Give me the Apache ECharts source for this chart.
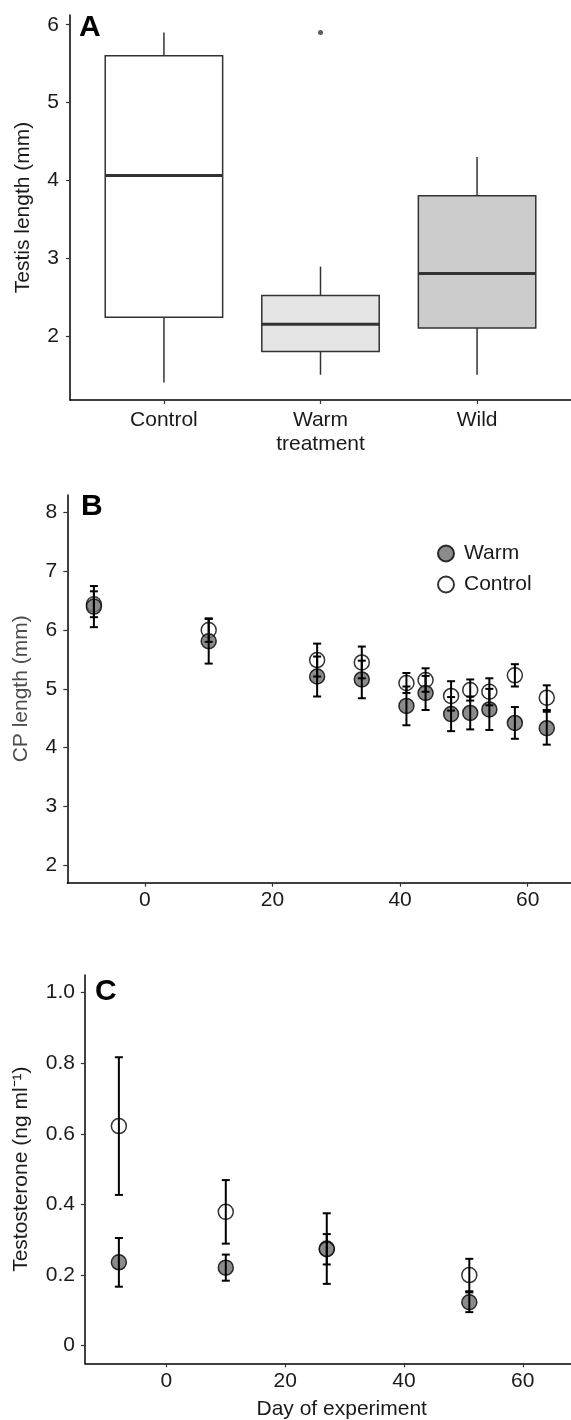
<!DOCTYPE html>
<html>
<head>
<meta charset="utf-8">
<script src="https://cdn.jsdelivr.net/npm/echarts@6/dist/echarts.min.js"></script>
<style>
  html, body { margin: 0; padding: 0; background: #fff; }
  #main { width: 571px; height: 1420px; }
</style>
</head>
<body>
<div id="main"></div>
<script>
// panel A - testis length boxplots
const boxCats = ['Control', 'Warm\ntreatment', 'Wild'];
const boxMin = [1.40, 1.50, 1.50];
const boxQ1 = [2.24, 1.80, 2.10];
const boxMed = [4.06, 2.15, 2.80];
const boxQ3 = [5.60, 2.52, 3.80];
const boxMax = [5.90, 2.89, 4.30];
const outlierCat = ['Warm\ntreatment'];
const outlierVal = [5.90];

// panel B - CP length by day
const cpDays = [-8, 10, 27, 34, 41, 44, 48, 51, 54, 58, 63];
const cpWarm = [6.40, 5.81, 5.21, 5.16, 4.71, 4.93, 4.57, 4.59, 4.65, 4.42, 4.33];
const cpWarmErr = [0.35, 0.38, 0.34, 0.32, 0.33, 0.29, 0.29, 0.28, 0.35, 0.27, 0.28];
const cpControl = [6.44, 6.00, 5.49, 5.45, 5.10, 5.15, 4.88, 4.98, 4.95, 5.23, 4.85];
const cpControlErr = [0.22, 0.20, 0.28, 0.27, 0.17, 0.20, 0.25, 0.18, 0.23, 0.19, 0.21];

// panel C - testosterone by day
const tDays = [-8, 10, 27, 51];
const tWarm = [0.236, 0.221, 0.273, 0.123];
const tWarmErr = [0.069, 0.037, 0.043, 0.028];
const tControl = [0.622, 0.379, 0.275, 0.200];
const tControlErr = [0.195, 0.090, 0.100, 0.046];

const boxFills = ['#ffffff', '#e5e5e5', '#cccccc'];
const FONT = 'Liberation Sans, Arial, sans-serif';
const TXT = '#1a1a1a';
const FS = 21;

function baseAxis(extra) {
    var ax = {
        type: 'value',
        splitLine: {show: false},
        axisLine: {show: true, onZero: false, lineStyle: {color: '#000', width: 1.5}},
        axisTick: {show: true, length: 4, lineStyle: {color: '#333', width: 1.2}},
        axisLabel: {fontFamily: FONT, fontSize: FS, color: TXT, lineHeight: 24},
        nameTextStyle: {fontFamily: FONT, fontSize: FS, color: TXT}
    };
    return echarts.util.merge(ax, extra, true);
}

function errItem(params, api) {
    var x = api.value(0);
    var lo = api.coord([x, api.value(1)]);
    var hi = api.coord([x, api.value(2)]);
    var cw = 4;
    var st = {stroke: '#000', lineWidth: 2};
    return {
        type: 'group',
        children: [
            {type: 'line', shape: {x1: lo[0], y1: lo[1], x2: hi[0], y2: hi[1]}, style: st},
            {type: 'line', shape: {x1: lo[0] - cw, y1: lo[1], x2: lo[0] + cw, y2: lo[1]}, style: st},
            {type: 'line', shape: {x1: hi[0] - cw, y1: hi[1], x2: hi[0] + cw, y2: hi[1]}, style: st}
        ]
    };
}

function boxItem(params, api) {
    var x = api.value(0);
    var hw = api.size([0.75, 0])[0] / 2;
    var pMin = api.coord([x, api.value(1)]);
    var pQ1 = api.coord([x, api.value(2)]);
    var pMed = api.coord([x, api.value(3)]);
    var pQ3 = api.coord([x, api.value(4)]);
    var pMax = api.coord([x, api.value(5)]);
    var ln = {stroke: '#333', lineWidth: 1.5};
    return {
        type: 'group',
        children: [
            {type: 'line', shape: {x1: pQ3[0], y1: pQ3[1], x2: pMax[0], y2: pMax[1]}, style: ln},
            {type: 'line', shape: {x1: pQ1[0], y1: pQ1[1], x2: pMin[0], y2: pMin[1]}, style: ln},
            {type: 'rect', shape: {x: pQ3[0] - hw, y: pQ3[1], width: hw * 2, height: pQ1[1] - pQ3[1]},
                style: {fill: boxFills[params.dataIndex], stroke: '#333', lineWidth: 1.5}},
            {type: 'line', shape: {x1: pMed[0] - hw, y1: pMed[1], x2: pMed[0] + hw, y2: pMed[1]},
                style: {stroke: '#333', lineWidth: 3}}
        ]
    };
}

const catPos = [1, 2, 3];
const boxData = boxCats.map((c, i) => [catPos[i], boxMin[i], boxQ1[i], boxMed[i], boxQ3[i], boxMax[i]]);
const outData = outlierCat.map((c, i) => [catPos[boxCats.indexOf(c)], outlierVal[i]]);

const errData = (days, mean, err) => days.map((d, i) => [d, mean[i] - err[i], mean[i] + err[i]]);
const ptData = (days, mean) => days.map((d, i) => [d, mean[i]]);

const warmStyle = {color: '#6e6e6e', borderColor: '#000', borderWidth: 1.5};
const ctrlStyle = {color: '#ffffff', borderColor: '#000', borderWidth: 1.5};

var chart = echarts.init(document.getElementById('main'), null, {renderer: 'canvas'});

var option = {
    animation: false,
    backgroundColor: '#fff',
    grid: [
        {left: 70, top: 15, width: 501, height: 385, outerBoundsMode: 'none'},
        {left: 67.3, top: 495, width: 503.7, height: 387.7, outerBoundsMode: 'none'},
        {left: 84.9, top: 975, width: 513.6, height: 388.3, outerBoundsMode: 'none'}
    ],
    xAxis: [
        baseAxis({gridIndex: 0, min: 0.4, max: 3.6,
            axisTick: {customValues: catPos},
            axisLabel: {customValues: catPos, margin: 8, formatter: v => boxCats[Math.round(v) - 1]}}),
        baseAxis({gridIndex: 1, min: -12.17, max: 66.8,
            axisTick: {customValues: [0, 20, 40, 60]},
            axisLabel: {customValues: [0, 20, 40, 60], margin: 6}}),
        baseAxis({gridIndex: 2, min: -13.72, max: 72.75,
            axisTick: {customValues: [0, 20, 40, 60]},
            axisLabel: {customValues: [0, 20, 40, 60], margin: 6},
            name: 'Day of experiment', nameLocation: 'middle', nameGap: 35})
    ],
    yAxis: [
        baseAxis({gridIndex: 0, min: 1.175, max: 6.125,
            axisTick: {customValues: [2, 3, 4, 5, 6]},
            axisLabel: {customValues: [2, 3, 4, 5, 6], margin: 11},
            name: 'Testis length (mm)', nameLocation: 'middle', nameGap: 36}),
        baseAxis({gridIndex: 1, min: 1.7, max: 8.3,
            axisTick: {customValues: [2, 3, 4, 5, 6, 7, 8]},
            axisLabel: {customValues: [2, 3, 4, 5, 6, 7, 8], margin: 10},
            name: 'CP length (mm)', nameLocation: 'middle', nameGap: 36,
            nameTextStyle: {color: '#4d4d4d'}}),
        baseAxis({gridIndex: 2, min: -0.05, max: 1.05,
            axisTick: {customValues: [0, 0.2, 0.4, 0.6, 0.8, 1.0]},
            axisLabel: {customValues: [0, 0.2, 0.4, 0.6, 0.8, 1.0], margin: 10,
                formatter: v => (v === 0 ? '0' : v.toFixed(1))},
            name: 'Testosterone (ng ml\u207B\u00B9)', nameLocation: 'middle', nameGap: 53})
    ],
    legend: {
        orient: 'vertical', left: 432, top: 538, itemWidth: 16, itemHeight: 16, itemGap: 10,
        icon: 'circle', selectedMode: false,
        textStyle: {fontFamily: FONT, fontSize: FS, color: TXT, padding: [0, 0, 0, 5]},
        data: ['Warm', 'Control']
    },
    graphic: [
        {type: 'text', left: 79, top: 13, style: {text: 'A', font: 'bold 30px ' + FONT, fill: '#000'}},
        {type: 'text', left: 81, top: 492, style: {text: 'B', font: 'bold 30px ' + FONT, fill: '#000'}},
        {type: 'text', left: 95, top: 977, style: {text: 'C', font: 'bold 30px ' + FONT, fill: '#000'}}
    ],
    series: [
        {type: 'custom', name: 'box', xAxisIndex: 0, yAxisIndex: 0, renderItem: boxItem,
            encode: {x: 0, y: [1, 2, 3, 4, 5]}, data: boxData, z: 2},
        {type: 'scatter', name: 'outlier', xAxisIndex: 0, yAxisIndex: 0, symbolSize: 5,
            itemStyle: {color: '#333'}, data: outData, z: 3},

        {type: 'scatter', name: 'Control', xAxisIndex: 1, yAxisIndex: 1, symbolSize: 15,
            itemStyle: ctrlStyle, data: ptData(cpDays, cpControl), z: 3},
        {type: 'scatter', name: 'Warm', xAxisIndex: 1, yAxisIndex: 1, symbolSize: 15,
            itemStyle: warmStyle, data: ptData(cpDays, cpWarm), z: 4},
        {type: 'custom', name: 'cpCtrlErr', xAxisIndex: 1, yAxisIndex: 1, renderItem: errItem,
            encode: {x: 0, y: [1, 2]}, data: errData(cpDays, cpControl, cpControlErr), z: 5},
        {type: 'custom', name: 'cpWarmErr', xAxisIndex: 1, yAxisIndex: 1, renderItem: errItem,
            encode: {x: 0, y: [1, 2]}, data: errData(cpDays, cpWarm, cpWarmErr), z: 5},

        {type: 'scatter', name: 'Control', xAxisIndex: 2, yAxisIndex: 2, symbolSize: 15,
            itemStyle: ctrlStyle, data: ptData(tDays, tControl), z: 3},
        {type: 'scatter', name: 'Warm', xAxisIndex: 2, yAxisIndex: 2, symbolSize: 15,
            itemStyle: warmStyle, data: ptData(tDays, tWarm), z: 4},
        {type: 'custom', name: 'tCtrlErr', xAxisIndex: 2, yAxisIndex: 2, renderItem: errItem,
            encode: {x: 0, y: [1, 2]}, data: errData(tDays, tControl, tControlErr), z: 5},
        {type: 'custom', name: 'tWarmErr', xAxisIndex: 2, yAxisIndex: 2, renderItem: errItem,
            encode: {x: 0, y: [1, 2]}, data: errData(tDays, tWarm, tWarmErr), z: 5}
    ]
};

chart.setOption(option);
</script>
</body>
</html>
